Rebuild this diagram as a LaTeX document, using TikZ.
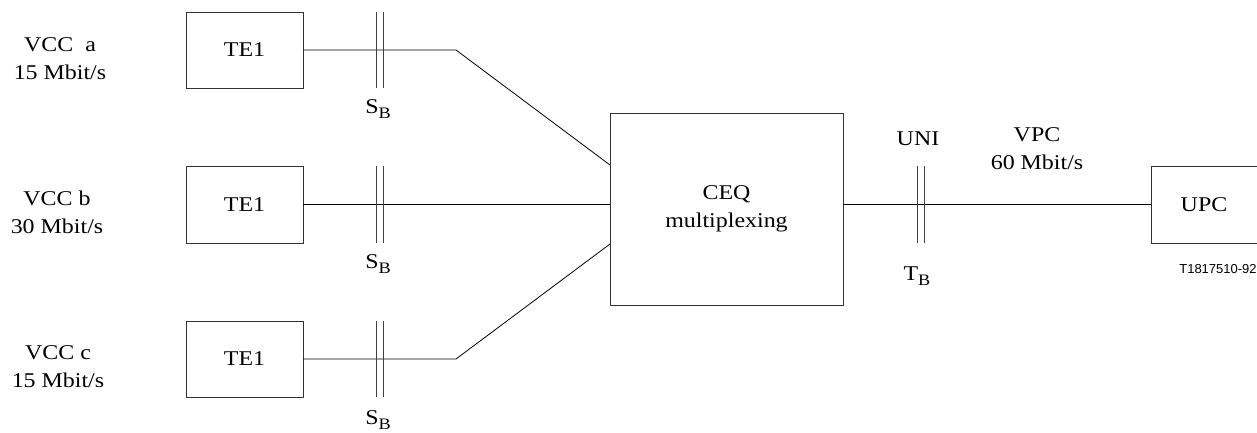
\documentclass[tikz,border=0pt]{standalone}
\usepackage{fontspec}
\setmainfont[FakeStretch=1.14]{Liberation Serif}
\newfontfamily\tagfont{Liberation Sans}
\begin{document}
\begin{tikzpicture}[x=1pt,y=-1pt,
  box/.style={draw=black!80,line width=0.9pt,inner sep=0pt,align=center,font=\fontsize{21}{28}\selectfont},
  lbl/.style={inner sep=0pt,align=center,font=\fontsize{21}{28}\selectfont},
  wire/.style={line width=0.8pt},
  bar/.style={draw=black!75,line width=0.8pt}]
\useasboundingbox (0,0) rectangle (1257,432);
\newcommand{\sub}[2]{#1\raisebox{-0.45ex}{\fontsize{16}{16}\selectfont #2}}
% boxes
\node[box,minimum width=117pt,minimum height=76pt] (tea) at (244.5,50) {TE1};
\node[box,minimum width=117pt,minimum height=77pt] (teb) at (244.5,204.5) {TE1};
\node[box,minimum width=117pt,minimum height=76pt] (tec) at (244.5,359) {TE1};
\node[box,minimum width=233pt,minimum height=192pt] (ceq) at (726.5,209) {CEQ\\multiplexing};
\node[box,minimum width=106pt,minimum height=77pt] (upc) at (1204,204.5) {UPC};
% left labels
\node[lbl] (la) at (60,59) {VCC\ \ a\\15 Mbit/s};
\node[lbl] (lb) at (57,212) {VCC b\\30 Mbit/s};
\node[lbl] (lc) at (58,367) {VCC c\\15 Mbit/s};
% connector bends
\coordinate (ka) at (456,50);
\coordinate (kc) at (456,359);
\coordinate (ia) at (610,165);
\coordinate (ib) at (610,204);
\coordinate (ic) at (610,244);
\coordinate (ob) at (843,204);
\draw[wire] (tea.east |- ka) -- (ka) -- (ia);
\draw[wire] (teb.east |- ib) -- (ib);
\draw[wire] (tec.east |- kc) -- (kc) -- (ic);
\draw[wire] (ob) -- (upc.west |- ob);
% reference point bars
\foreach \yt/\yb in {12/88,166/243,321/397}{
  \draw[bar] (376,\yt) -- (376,\yb);
  \draw[bar] (383,\yt) -- (383,\yb);
}
\draw[bar] (917,166) -- (917,243);
\draw[bar] (924,166) -- (924,243);
% reference point labels
\node[lbl] (sa) at (378,109) {\sub{S}{B}};
\node[lbl] (sb) at (378,264) {\sub{S}{B}};
\node[lbl] (sc) at (378,420) {\sub{S}{B}};
\node[lbl] (tb) at (917,276) {\sub{T}{B}};
\node[lbl] (uni) at (918,139) {UNI};
\node[lbl] (vpc) at (1037,149) {VPC\\60 Mbit/s};
\node[inner sep=0pt,font=\tagfont\fontsize{13}{13}\selectfont] (tag) at (1218,269) {T1817510-92};
\end{tikzpicture}
\end{document}
